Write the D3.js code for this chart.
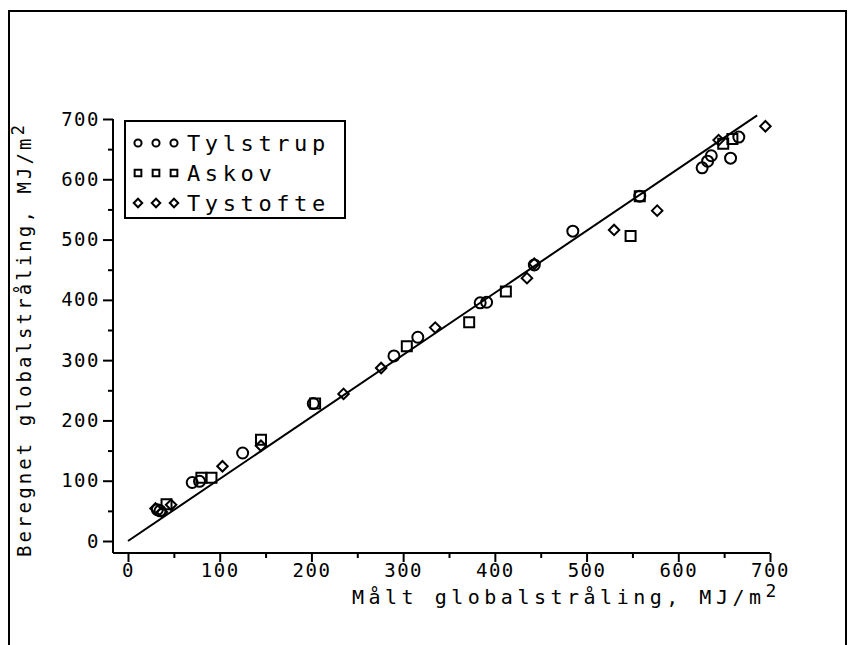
<!DOCTYPE html>
<html>
<head>
<meta charset="utf-8">
<title>Beregnet mod maalt globalstraaling</title>
<script src="https://cdn.jsdelivr.net/npm/d3@7/dist/d3.min.js" charset="utf-8"></script>
<style type="text/css">
	body { margin: 0; background: #fff; }
	text {
		font-family: "DejaVu Sans Mono", monospace;
		fill: #000;
	}
	.tick line { stroke: #000; stroke-width: 2px; }
	.mark { fill: none; stroke: #000; stroke-width: 2px; }
</style>
</head>
<body>
<script type="text/javascript">

// malt (x) / beregnet (y) globalstraaling, MJ/m2
var tylstrupX = [32, 35, 70, 78, 125, 202, 290, 316, 384, 391, 443, 485, 558, 626, 632, 636, 657, 666];
var tylstrupY = [52, 50, 97, 99, 146, 228, 307, 338, 395, 396, 458, 514, 572, 619, 630, 639, 635, 670];
var askovX = [42, 80, 91, 145, 204, 304, 372, 412, 548, 558, 649, 659];
var askovY = [61, 105, 105, 168, 228, 323, 363, 414, 506, 572, 659, 667];
var tystofteX = [30, 37, 47, 103, 145, 235, 276, 335, 435, 443, 530, 577, 644, 695];
var tystofteY = [54, 48, 60, 124, 158, 244, 287, 354, 436, 460, 516, 548, 665, 688];
var lineX = [0, 686];
var lineY = [0, 706];
var ticks = [0, 100, 200, 300, 400, 500, 600, 700];
var minorTicks = [50, 150, 250, 350, 450, 550, 650];
var stations = ["Tylstrup", "Askov", "Tystofte"];

var width = 854,
    height = 645;

var svg = d3.select("body").append("svg").attr("width", width).attr("height", height);

var x = d3.scaleLinear().domain([0, 700]).range([128, 770]);
var y = d3.scaleLinear().domain([0, 700]).range([541, 119]);
var axisY = 553, axisX = 113;

// ramme
svg.append("path")
	.attr("d", "M9,645 V11 H846 V645")
	.attr("fill", "none").attr("stroke", "#000").attr("stroke-width", 2);

// akser
svg.append("line").attr("x1", axisX).attr("x2", x(700)).attr("y1", axisY).attr("y2", axisY)
	.attr("stroke", "#000").attr("stroke-width", 2);
svg.append("line").attr("x1", axisX).attr("x2", axisX).attr("y1", y(700)).attr("y2", axisY)
	.attr("stroke", "#000").attr("stroke-width", 2);

svg.append("g").attr("transform", "translate(0," + axisY + ")")
	.call(d3.axisBottom(x).tickValues(ticks).tickSize(9).tickPadding(2).tickFormat(d3.format("d")));
svg.append("g").attr("transform", "translate(0," + axisY + ")")
	.call(d3.axisBottom(x).tickValues(minorTicks).tickSize(5).tickFormat(""));
svg.append("g").attr("transform", "translate(" + axisX + ",0)")
	.call(d3.axisLeft(y).tickValues(ticks).tickSize(10).tickPadding(3).tickFormat(d3.format("d")));
svg.append("g").attr("transform", "translate(" + axisX + ",0)")
	.call(d3.axisLeft(y).tickValues(minorTicks).tickSize(5).tickFormat(""));
svg.selectAll(".domain").remove();
svg.selectAll(".tick text")
	.attr("font-family", "DejaVu Sans Mono")
	.attr("font-size", 19)
	.attr("letter-spacing", 1.5);

// regressionslinje
svg.append("line")
	.attr("x1", x(lineX[0])).attr("y1", y(lineY[0]))
	.attr("x2", x(lineX[1])).attr("y2", y(lineY[1]))
	.attr("stroke", "#000").attr("stroke-width", 2);

// ruder: kvadrat drejet 45 grader
var rhomb = {
	draw: function(ctx, size) {
		var r = Math.sqrt(size / 2);
		ctx.moveTo(0, -r); ctx.lineTo(r, 0); ctx.lineTo(0, r); ctx.lineTo(-r, 0); ctx.closePath();
	}
};
var sym = [d3.symbolCircle, d3.symbolSquare, rhomb];
var symSize = [95, 100, 55];
var series = [[tylstrupX, tylstrupY], [askovX, askovY], [tystofteX, tystofteY]];

series.forEach(function(s, k) {
	var pts = s[0].map(function(v, i) { return [v, s[1][i]]; });
	svg.append("g").selectAll("path")
		.data(pts).enter()
		.append("path")
		.attr("class", "mark")
		.attr("transform", function(d) { return "translate(" + x(d[0]) + "," + y(d[1]) + ")"; })
		.attr("d", d3.symbol().type(sym[k]).size(symSize[k]));
});

// forklaring
var legSize = [40, 45, 36];
var leg = svg.append("g");
leg.append("rect").attr("x", 125).attr("y", 121).attr("width", 220).attr("height", 97)
	.attr("fill", "none").attr("stroke", "#000").attr("stroke-width", 2);
stations.forEach(function(name, k) {
	var ly = 143 + k * 30;
	[138, 156, 174].forEach(function(lx) {
		leg.append("path").attr("class", "mark")
			.attr("transform", "translate(" + lx + "," + ly + ")")
			.attr("d", d3.symbol().type(sym[k]).size(legSize[k]));
	});
	leg.append("text").attr("x", 187).attr("y", ly + 8)
		.attr("font-size", 22).attr("letter-spacing", 4.6)
		.text(name);
});

// aksetitler
var xt = svg.append("text").attr("x", 352).attr("y", 604)
	.attr("font-size", 20).attr("letter-spacing", 4.5);
xt.append("tspan").text("Målt globalstråling, MJ/m");
xt.append("tspan").attr("dy", -7).attr("font-size", 18).text("2");

var yt = svg.append("text").attr("transform", "translate(31,557) rotate(-90)")
	.attr("font-size", 19).attr("letter-spacing", 3.1);
yt.append("tspan").text("Beregnet globalstråling, MJ/m");
yt.append("tspan").attr("dy", -7).attr("font-size", 17).text("2");

</script>
</body>
</html>
